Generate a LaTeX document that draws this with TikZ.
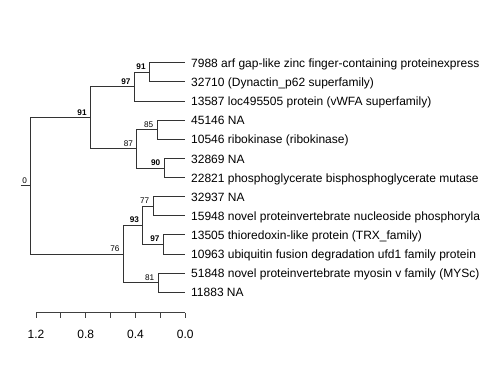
\documentclass[tikz,border=0pt]{standalone}
\usepackage{fontspec}
\setmainfont{Liberation Sans}
\begin{document}
\begin{tikzpicture}[x=1pt,y=-1pt,
  branch/.style={draw=black!80, line width=0.9pt},
  leaf/.style={anchor=base west, inner sep=0pt, font=\fontsize{12}{13}\selectfont},
  supp/.style={anchor=base east, inner sep=0pt, xshift=-3.5pt, yshift=2.6pt, font=\fontsize{8.2}{9}\selectfont},
  suppb/.style={supp, font=\fontsize{8.2}{9}\selectfont\bfseries},
  axlab/.style={anchor=base, inner sep=0pt, font=\fontsize{12}{13}\selectfont},
  axis/.style={draw=black!75, line width=0.9pt}]
\useasboundingbox (0,0) rectangle (480,384);
\clip (0,0) rectangle (480,384);
% tips
\foreach \i/\y in {1/62.7,2/81.8,3/101.0,4/120.1,5/139.2,6/158.4,7/177.5,8/196.6,9/215.7,10/234.9,11/254.0,12/273.1,13/292.3}
  \coordinate (t\i) at (185.3,\y);
% internal nodes
\coordinate (A) at (149.3,72.25);
\coordinate (B) at (134.2,86.6);
\coordinate (C) at (157.0,129.65);
\coordinate (D) at (164.0,167.95);
\coordinate (E) at (136.7,148.8);
\coordinate (F) at (90.3,117.7);
\coordinate (J) at (153.0,206.15);
\coordinate (K) at (163.2,244.45);
\coordinate (H) at (142.7,225.3);
\coordinate (I) at (158.0,282.7);
\coordinate (G) at (123.2,254.0);
\coordinate (R) at (30.7,185.85);
\coordinate (s0) at (20.5,185.85);
% branches
\draw[branch] (A) |- (t1);
\draw[branch] (A) |- (t2);
\draw[branch] (B) |- (A);
\draw[branch] (B) |- (t3);
\draw[branch] (C) |- (t4);
\draw[branch] (C) |- (t5);
\draw[branch] (D) |- (t6);
\draw[branch] (D) |- (t7);
\draw[branch] (E) |- (C);
\draw[branch] (E) |- (D);
\draw[branch] (F) |- (B);
\draw[branch] (F) |- (E);
\draw[branch] (R) |- (F);
\draw[branch] (R) |- (G);
\draw[branch] (J) |- (t8);
\draw[branch] (J) |- (t9);
\draw[branch] (K) |- (t10);
\draw[branch] (K) |- (t11);
\draw[branch] (H) |- (J);
\draw[branch] (H) |- (K);
\draw[branch] (I) |- (t12);
\draw[branch] (I) |- (t13);
\draw[branch] (G) |- (H);
\draw[branch] (G) |- (I);
\draw[branch] (s0) -- (R);
% support values
\node[suppb] (sA) at (A) {91};
\node[suppb] (sB) at (B) {97};
\node[supp]  (sC) at (C) {85};
\node[suppb] (sD) at (D) {90};
\node[supp]  (sE) at (E) {87};
\node[suppb] (sF) at (F) {91};
\node[supp]  (sJ) at (J) {77};
\node[suppb] (sK) at (K) {97};
\node[suppb] (sH) at (H) {93};
\node[supp]  (sI) at (I) {81};
\node[supp]  (sG) at (G) {76};
\node[supp]  (sR) at (R) {0};
% leaf labels
\node[leaf] (l1)  at ([shift={(5.7,4.6)}]t1)  {7988 arf gap-like zinc finger-containing proteinexpress};
\node[leaf] (l2)  at ([shift={(5.7,4.6)}]t2)  {32710 (Dynactin\_p62 superfamily)};
\node[leaf] (l3)  at ([shift={(5.7,4.6)}]t3)  {13587 loc495505 protein (vWFA superfamily)};
\node[leaf] (l4)  at ([shift={(5.7,4.6)}]t4)  {45146 NA};
\node[leaf] (l5)  at ([shift={(5.7,4.6)}]t5)  {10546 ribokinase (ribokinase)};
\node[leaf] (l6)  at ([shift={(5.7,4.6)}]t6)  {32869 NA};
\node[leaf] (l7)  at ([shift={(5.7,4.6)}]t7)  {22821 phosphoglycerate bisphosphoglycerate mutase};
\node[leaf] (l8)  at ([shift={(5.7,4.6)}]t8)  {32937 NA};
\node[leaf] (l9)  at ([shift={(5.7,4.6)}]t9)  {15948 novel proteinvertebrate nucleoside phosphoryla};
\node[leaf] (l10) at ([shift={(5.7,4.6)}]t10) {13505 thioredoxin-like protein (TRX\_family)};
\node[leaf] (l11) at ([shift={(5.7,4.6)}]t11) {10963 ubiquitin fusion degradation ufd1 family protein};
\node[leaf] (l12) at ([shift={(5.7,4.6)}]t12) {51848 novel proteinvertebrate myosin v family (MYSc)};
\node[leaf] (l13) at ([shift={(5.7,4.6)}]t13) {11883 NA};
% scale axis
\coordinate (ax0) at (36,312.7);
\coordinate (ax1) at (185.3,312.7);
\draw[axis] (ax0) -- (ax1);
\foreach \k in {0,...,6}
  \draw[axis] ([xshift=\k*24.883pt]ax0) -- ++(0,5.7);
\node[axlab] (a12) at ([yshift=-25.8pt]ax0) {1.2};
\node[axlab] (a08) at ([xshift=49.77pt,yshift=-25.8pt]ax0) {0.8};
\node[axlab] (a04) at ([xshift=99.53pt,yshift=-25.8pt]ax0) {0.4};
\node[axlab] (a00) at ([xshift=149.3pt,yshift=-25.8pt]ax0) {0.0};
\end{tikzpicture}
\end{document}
